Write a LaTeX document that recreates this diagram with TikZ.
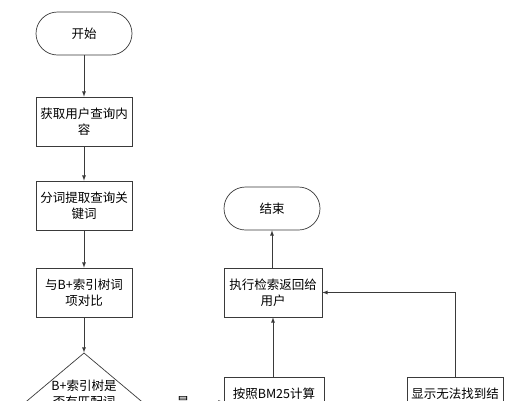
\documentclass[tikz,border=0pt]{standalone}
\usepackage{fontspec}
\setmainfont{Noto Sans CJK SC}
\usetikzlibrary{arrows,shapes.geometric}
\definecolor{linegray}{HTML}{3A3A3A}
\tikzstyle{terminal} = [draw=linegray, rectangle, rounded corners=21.5pt, minimum width=96pt, minimum height=43pt, inner sep=2pt]
\tikzstyle{stepbox} = [draw=linegray, rectangle, minimum width=96pt, minimum height=49pt, inner sep=2pt, align=center]
\tikzstyle{decision} = [draw=linegray, diamond, shape aspect=1.19, minimum width=116pt, minimum height=97pt, inner sep=0pt, align=center]
\tikzstyle{flow} = [draw=linegray, line width=0.8pt, -latex]

\begin{document}
\begin{tikzpicture}[x=1pt, y=-1pt, font=\fontsize{12.5}{16}\selectfont, line width=0.7pt]
\clip (0,0) rectangle (532,400);
\fill[white] (0,0) rectangle (532,400);
% left column
\node [terminal] (start) at (84,33.5) {开始};
\node [stepbox] (fetch) at (84,121.5) {获取用户查询内\\容};
\node [stepbox] (split) at (84,205.5) {分词提取查询关\\键词};
\node [stepbox] (compare) at (84,292.5) {与B+索引树词\\项对比};
\node [decision] (check) at (84,402) {B+索引树是\\否有匹配词\\项};
% right columns
\node [terminal] (end) at (272,208.5) {结束};
\node [stepbox, minimum width=98pt] (exec) at (273,292.5) {执行检索返回给\\用户};
\node [stepbox, minimum width=100pt] (bm25) at (274,402) {按照BM25计算\\相关度};
\node [stepbox] (none) at (455,402) {显示无法找到结\\果};

\draw [flow] (start) -- (fetch);
\draw [flow] (fetch) -- (split);
\draw [flow] (split) -- (compare);
\draw [flow] (compare) -- (check);
\draw [flow] (check) -- node[fill=white, inner sep=1pt] (yes) {是} (bm25);
\draw [flow] (bm25.north -| exec) -- (exec);
\draw [flow] (exec.north -| end) -- (end);
\draw [flow] (none.north) |- (exec.east);
\end{tikzpicture}
\end{document}
